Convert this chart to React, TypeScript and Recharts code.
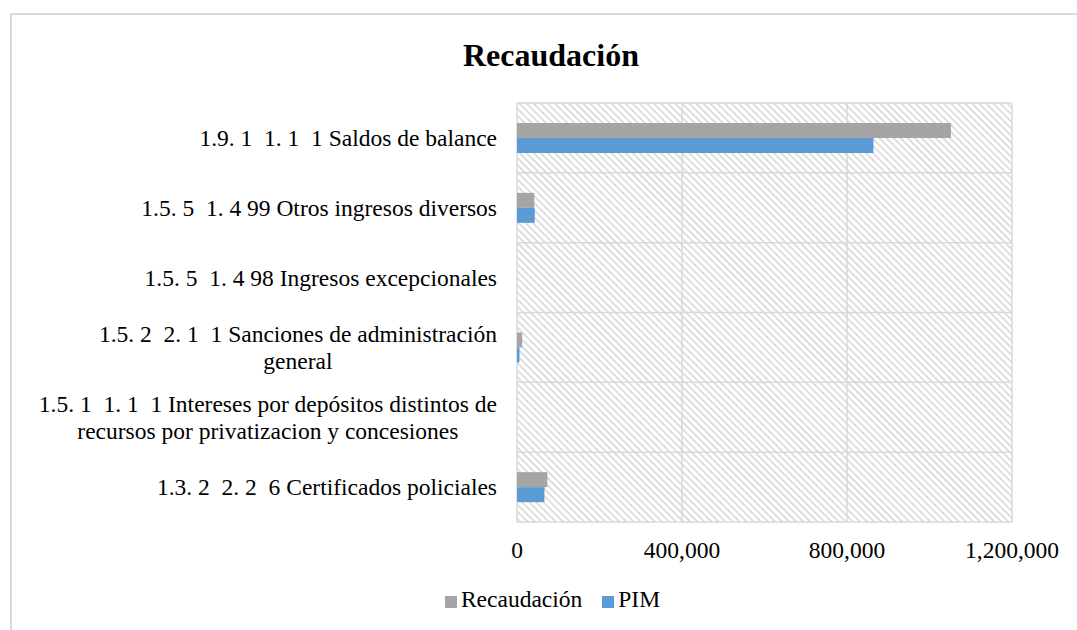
import React from "react";
import { BarChart, Bar, XAxis, YAxis, CartesianGrid, Legend } from "recharts";

const categories = [
  "1.9. 1  1. 1  1 Saldos de balance",
  "1.5. 5  1. 4 99 Otros ingresos diversos",
  "1.5. 5  1. 4 98 Ingresos excepcionales",
  "1.5. 2  2. 1  1 Sanciones de administración\ngeneral",
  "1.5. 1  1. 1  1 Intereses por depósitos distintos de\nrecursos por privatizacion y concesiones",
  "1.3. 2  2. 2  6 Certificados policiales",
];
const recaudacion = [1052000, 42000, 0, 12500, 0, 73500];
const pim = [864000, 43000, 0, 6000, 0, 66500];
const xTicks = [0, 400000, 800000, 1200000];
const seriesOrder = ["Recaudación", "PIM"];

const data = categories.map((name, i) => ({ name, recaudacion: recaudacion[i], pim: pim[i] }));

const FONT = "'Liberation Serif', 'Times New Roman', serif";
const FS = 23.5;
const GRID = "#d9d9d9";

let ctx: CanvasRenderingContext2D | null = null;
const measure = (t: string) => {
  if (!ctx) ctx = document.createElement("canvas").getContext("2d");
  if (!ctx) return t.length * FS * 0.45;
  ctx.font = `${FS}px ${FONT}`;
  return ctx.measureText(t).width;
};

const CategoryTick = (props: any) => {
  const { x, y, payload } = props;
  const lines: string[] = String(payload.value).split("\n");
  const lineH = 27;
  if (lines.length === 1) {
    return (
      <text x={x} y={y} dy="0.355em" textAnchor="end" fontSize={FS} fontFamily={FONT} fill="#000" style={{ whiteSpace: "pre" }}>
        {lines[0]}
      </text>
    );
  }
  const w = Math.max(...lines.map(measure));
  const cx = x - w / 2;
  return (
    <g>
      {lines.map((l, i) => (
        <text
          key={i}
          x={cx}
          y={y + (i - (lines.length - 1) / 2) * lineH}
          dy="0.355em"
          textAnchor="middle"
          fontSize={FS}
          fontFamily={FONT}
          fill="#000"
          style={{ whiteSpace: "pre" }}
        >
          {l}
        </text>
      ))}
    </g>
  );
};

const fmt = (v: number) => v.toLocaleString("en-US");

const bandLines = ({ offset }: any) =>
  categories.map((_, i) => offset.top + (i * offset.height) / categories.length).concat(offset.top + offset.height);

export default function App() {
  return (
    <div style={{ position: "absolute", left: 0, top: 0, width: 1077, height: 630, overflow: "hidden", background: "#fff" }}>
      <svg width={0} height={0} style={{ position: "absolute" }}>
        <defs>
          <pattern id="hatch" width={5} height={5} patternUnits="userSpaceOnUse" patternTransform="rotate(45)">
            <rect x={0} y={0} width={5} height={5} fill="#fff" />
            <rect x={0} y={0} width={5} height={1.6} fill="#d6d6d6" />
          </pattern>
        </defs>
      </svg>
      <div
        style={{
          position: "absolute",
          left: 10,
          top: 13,
          width: 1100,
          height: 700,
          border: `2px solid ${GRID}`,
          boxSizing: "border-box",
        }}
      />
      <div
        style={{
          position: "absolute",
          left: 0,
          top: 35,
          width: 1102,
          height: 40,
          lineHeight: "40px",
          textAlign: "center",
          fontFamily: FONT,
          fontWeight: "bold",
          fontSize: 32,
          color: "#000",
        }}
      >
        Recaudación
      </div>
      <div style={{ position: "absolute", left: 0, top: 0 }}>
        <BarChart
          width={1077}
          height={630}
          data={data}
          layout="vertical"
          margin={{ top: 103, right: 65, bottom: 78, left: 0 }}
          barSize={15}
          barGap={0}
        >
          <CartesianGrid
            stroke={GRID}
            strokeWidth={1.5}
            fill="url(#hatch)"
            horizontalCoordinatesGenerator={bandLines}
          />
          <XAxis
            type="number"
            domain={[0, 1200000]}
            ticks={xTicks}
            tickFormatter={fmt}
            axisLine={false}
            tickLine={false}
            tickMargin={13}
            height={30}
            tick={{ fontSize: FS, fontFamily: FONT, fill: "#000" }}
          />
          <YAxis
            type="category"
            dataKey="name"
            width={517}
            axisLine={false}
            tickLine={false}
            tickMargin={14}
            interval={0}
            tick={<CategoryTick />}
          />
          <Legend
            verticalAlign="middle"
            align="center"
            layout="horizontal"
            iconType="square"
            iconSize={12}
            itemSorter={(item: any) => seriesOrder.indexOf(item.value)}
            wrapperStyle={{ top: 586, left: 24, width: 1077, fontFamily: FONT, fontSize: FS }}
            formatter={(v: string) => <span style={{ color: "#000", paddingRight: 10 }}>{v}</span>}
          />
          <Bar dataKey="recaudacion" name="Recaudación" fill="#a5a5a5" isAnimationActive={false} />
          <Bar dataKey="pim" name="PIM" fill="#5b9bd5" isAnimationActive={false} />
        </BarChart>
      </div>
    </div>
  );
}
